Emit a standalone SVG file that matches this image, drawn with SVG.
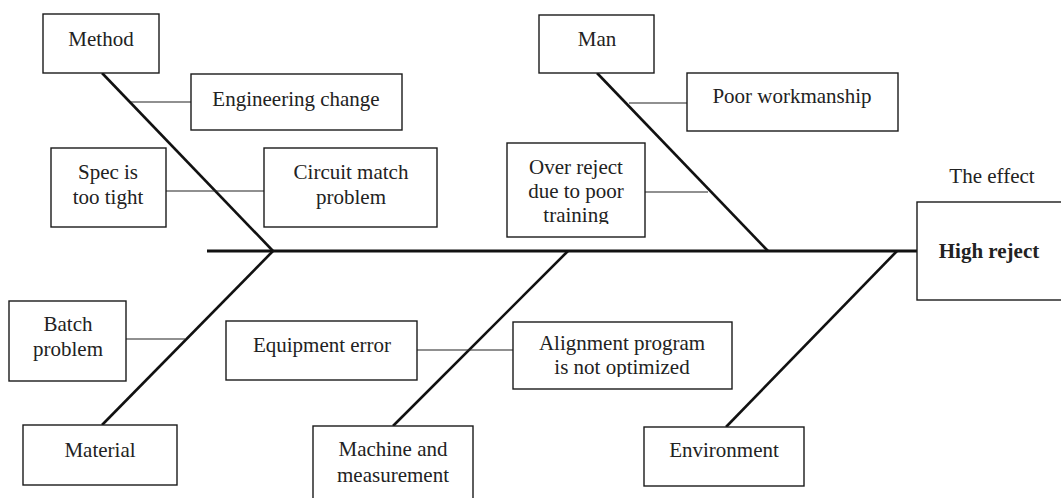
<svg xmlns="http://www.w3.org/2000/svg" width="1061" height="498" viewBox="0 0 1061 498">
<style>
.box{fill:#fff;stroke:#1a1a1a;stroke-width:1.4}
.t{font-family:"Liberation Serif","Times New Roman",serif;font-size:21px;fill:#222;text-anchor:middle}
.b{font-weight:bold}
.spine{stroke:#111;stroke-width:3.2;fill:none}
.bone{stroke:#111;stroke-width:2.6;fill:none}
.sub{stroke:#222;stroke-width:1.2;fill:none}
</style>
<defs>
<clipPath id="clipOver"><rect x="507" y="143" width="138" height="81"/></clipPath>
<clipPath id="clipAlign"><rect x="513" y="322" width="219" height="55"/></clipPath>
</defs>
<rect width="1061" height="498" fill="#fff"/>
<g id="connectors">
<line class="spine" x1="207" y1="251" x2="917" y2="251"/>
<line class="bone" x1="102" y1="73" x2="273" y2="251"/>
<line class="bone" x1="597" y1="73" x2="768" y2="251"/>
<line class="bone" x1="102" y1="425" x2="273" y2="251"/>
<line class="bone" x1="393" y1="426" x2="568" y2="251"/>
<line class="bone" x1="726" y1="427" x2="897" y2="251"/>
<line class="sub" x1="131" y1="102" x2="191" y2="102"/>
<line class="sub" x1="166" y1="191" x2="264" y2="191"/>
<line class="sub" x1="629" y1="103" x2="687" y2="103"/>
<line class="sub" x1="645" y1="192" x2="708" y2="192"/>
<line class="sub" x1="126" y1="339" x2="185" y2="339"/>
<line class="sub" x1="417" y1="350" x2="513" y2="350"/>
</g>
<g id="method"><rect class="box" x="43" y="14" width="116" height="59"/><text class="t" x="101" y="46">Method</text></g>
<g id="engineering-change"><rect class="box" x="191" y="74" width="211" height="56"/><text class="t" x="296" y="106">Engineering change</text></g>
<g id="spec"><rect class="box" x="51" y="148" width="115" height="79"/><text class="t" x="108" y="179">Spec is</text><text class="t" x="108" y="204">too tight</text></g>
<g id="circuit"><rect class="box" x="264" y="148" width="173" height="79"/><text class="t" x="351" y="179">Circuit match</text><text class="t" x="351" y="204">problem</text></g>
<g id="man"><rect class="box" x="539" y="15" width="115" height="58"/><text class="t" x="597" y="46">Man</text></g>
<g id="poor-workmanship"><rect class="box" x="687" y="73" width="211" height="58"/><text class="t" x="792" y="103">Poor workmanship</text></g>
<g id="over-reject"><rect class="box" x="507" y="143" width="138" height="94"/><g clip-path="url(#clipOver)"><text class="t" x="576" y="174">Over reject</text><text class="t" x="576" y="198">due to poor</text><text class="t" x="576" y="222">training</text></g></g>
<g id="effect-label"><text class="t" x="992" y="183">The effect</text></g>
<g id="effect"><rect class="box" x="917" y="202" width="150" height="98"/><text class="t b" x="989" y="258">High reject</text></g>
<g id="batch"><rect class="box" x="9" y="301" width="117" height="80"/><text class="t" x="68" y="331">Batch</text><text class="t" x="68" y="356">problem</text></g>
<g id="material"><rect class="box" x="23" y="425" width="154" height="60"/><text class="t" x="100" y="457">Material</text></g>
<g id="equipment"><rect class="box" x="226" y="321" width="191" height="59"/><text class="t" x="322" y="352">Equipment error</text></g>
<g id="alignment"><rect class="box" x="513" y="322" width="219" height="67"/><g clip-path="url(#clipAlign)"><text class="t" x="622" y="350">Alignment program</text><text class="t" x="622" y="374">is not optimized</text></g></g>
<g id="machine"><rect class="box" x="313" y="426" width="160" height="80"/><text class="t" x="393" y="456">Machine and</text><text class="t" x="393" y="482">measurement</text></g>
<g id="environment"><rect class="box" x="644" y="427" width="160" height="59"/><text class="t" x="724" y="457">Environment</text></g>
</svg>
